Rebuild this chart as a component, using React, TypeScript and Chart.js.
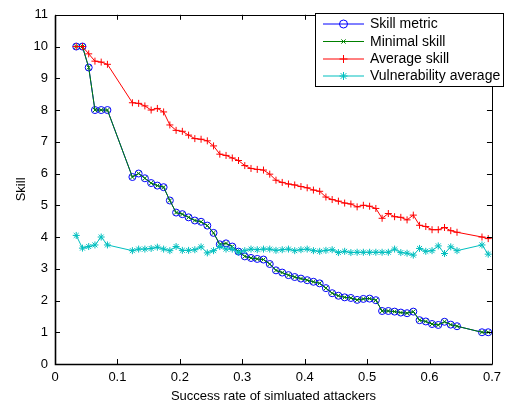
import React, { useEffect, useRef } from 'react';
import { Chart, registerables } from 'chart.js';
import { drawPoint } from 'chart.js/helpers';

Chart.register(...registerables);

const xValues = [
  0.034, 0.044, 0.054, 0.064, 0.074, 0.084,
  0.124, 0.134, 0.144, 0.154, 0.164, 0.174, 0.184, 0.194, 0.204, 0.214,
  0.224, 0.234, 0.244, 0.254, 0.264, 0.274, 0.284, 0.294, 0.304, 0.314,
  0.324, 0.334, 0.344, 0.354, 0.364, 0.374, 0.384, 0.394, 0.404, 0.414,
  0.424, 0.434, 0.444, 0.454, 0.464, 0.474, 0.484, 0.494, 0.504, 0.514,
  0.524, 0.534, 0.544, 0.554, 0.564, 0.574, 0.584, 0.594, 0.604, 0.614,
  0.624, 0.634, 0.644, 0.684, 0.694,
];

const skillMetric = [
  10.0, 10.0, 9.34, 8.0, 8.0, 8.0,
  5.89, 6.0, 5.85, 5.70, 5.62, 5.57, 5.15, 4.77, 4.72, 4.62,
  4.52, 4.48, 4.36, 4.13, 3.77, 3.80, 3.70, 3.54, 3.39, 3.34,
  3.31, 3.29, 3.15, 2.95, 2.88, 2.80, 2.74, 2.69, 2.64, 2.59,
  2.54, 2.39, 2.23, 2.15, 2.10, 2.08, 2.02, 2.05, 2.06, 2.01,
  1.67, 1.67, 1.65, 1.62, 1.60, 1.65, 1.38, 1.34, 1.26, 1.23,
  1.33, 1.24, 1.19, 1.00, 1.00,
];

const minimalSkill = [
  10.0, 10.0, 9.34, 8.0, 8.0, 8.0,
  5.89, 6.0, 5.85, 5.70, 5.62, 5.57, 5.15, 4.77, 4.72, 4.62,
  4.52, 4.48, 4.36, 4.13, 3.77, 3.80, 3.70, 3.54, 3.39, 3.34,
  3.31, 3.29, 3.15, 2.95, 2.88, 2.80, 2.74, 2.69, 2.64, 2.59,
  2.54, 2.39, 2.23, 2.15, 2.10, 2.08, 2.02, 2.05, 2.06, 2.01,
  1.67, 1.67, 1.65, 1.62, 1.60, 1.65, 1.38, 1.34, 1.26, 1.23,
  1.33, 1.24, 1.19, 1.00, 1.00,
];

const averageSkill = [
  10.0, 10.0, 9.77, 9.54, 9.51, 9.44,
  8.23, 8.21, 8.13, 8.00, 8.05, 7.94, 7.53, 7.36, 7.33, 7.21,
  7.10, 7.08, 7.03, 6.87, 6.61, 6.57, 6.49, 6.41, 6.25, 6.16,
  6.13, 6.11, 5.98, 5.79, 5.72, 5.67, 5.64, 5.59, 5.55, 5.48,
  5.44, 5.26, 5.18, 5.13, 5.07, 5.04, 4.95, 5.00, 4.97, 4.90,
  4.59, 4.74, 4.64, 4.62, 4.54, 4.69, 4.37, 4.33, 4.23, 4.23,
  4.30, 4.20, 4.15, 4.00, 3.95,
];

const vulnerabilityAverage = [
  4.05, 3.65, 3.70, 3.75, 4.00, 3.75,
  3.57, 3.62, 3.62, 3.64, 3.68, 3.62, 3.57, 3.70, 3.58, 3.58,
  3.60, 3.69, 3.50, 3.57, 3.70, 3.62, 3.62, 3.52, 3.57, 3.62,
  3.60, 3.62, 3.62, 3.58, 3.60, 3.62, 3.57, 3.60, 3.62, 3.57,
  3.55, 3.58, 3.60, 3.51, 3.55, 3.51, 3.52, 3.52, 3.52, 3.52,
  3.52, 3.52, 3.62, 3.51, 3.49, 3.43, 3.64, 3.55, 3.57, 3.72,
  3.48, 3.69, 3.57, 3.75, 3.46,
];

const xTicks = [0, 0.1, 0.2, 0.3, 0.4, 0.5, 0.6, 0.7];
const yTicks = [0, 1, 2, 3, 4, 5, 6, 7, 8, 9, 10, 11];
const seriesLabels = ['Skill metric', 'Minimal skill', 'Average skill', 'Vulnerability average'];
const xTitle = 'Success rate of simluated attackers';
const yTitle = 'Skill';

const FONT = "'Liberation Sans', Arial, Helvetica, sans-serif";

const styles = [
  { color: '#0000ff', pointStyle: 'circle', radius: 3.5, legendRadius: 4, order: 4 },
  { color: '#008000', pointStyle: 'crossRot', radius: 3, legendRadius: 3, order: 3 },
  { color: '#ff0000', pointStyle: 'cross', radius: 3.5, legendRadius: 4, order: 2 },
  { color: '#00bfbf', pointStyle: 'star', radius: 3.5, legendRadius: 4, order: 1 },
];

const frameAndLegend = {
  id: 'frameAndLegend',
  afterDraw(chart: any) {
    const { ctx, chartArea } = chart;
    const { left, right, top, bottom } = chartArea;
    const xs = chart.scales.x;
    const ys = chart.scales.y;
    ctx.save();
    ctx.strokeStyle = '#000';
    ctx.lineWidth = 1;
    const tl = 5;
    ctx.beginPath();
    xTicks.forEach((v) => {
      const px = Math.round(xs.getPixelForValue(v)) + 0.5;
      ctx.moveTo(px, bottom);
      ctx.lineTo(px, bottom - tl);
      ctx.moveTo(px, top);
      ctx.lineTo(px, top + tl);
    });
    yTicks.forEach((v) => {
      const py = Math.round(ys.getPixelForValue(v)) + 0.5;
      ctx.moveTo(left, py);
      ctx.lineTo(left + tl, py);
      ctx.moveTo(right, py);
      ctx.lineTo(right - tl, py);
    });
    ctx.stroke();
    const L = Math.round(left) + 0.5, R = Math.round(right) + 0.5;
    const T = Math.round(top) + 0.5, B = Math.round(bottom) + 0.5;
    ctx.beginPath();
    ctx.moveTo(L, T);
    ctx.lineTo(R, T);
    ctx.lineTo(R, B);
    ctx.stroke();
    ctx.lineWidth = 1.6;
    ctx.beginPath();
    ctx.moveTo(L, T);
    ctx.lineTo(L, B);
    ctx.lineTo(R, B);
    ctx.stroke();

    // legend
    const bx = 315.5, by = 13.5, bw = 188, bh = 73;
    ctx.lineWidth = 1;
    ctx.fillStyle = '#fff';
    ctx.fillRect(bx, by, bw, bh);
    ctx.strokeStyle = '#000';
    ctx.strokeRect(bx, by, bw, bh);
    const rows = [24, 41.5, 59, 76];
    ctx.font = `14px ${FONT}`;
    ctx.textBaseline = 'middle';
    ctx.textAlign = 'left';
    seriesLabels.forEach((label, i) => {
      const s = styles[i];
      const y = rows[i];
      ctx.strokeStyle = s.color;
      ctx.lineWidth = 1;
      ctx.beginPath();
      ctx.moveTo(323, y);
      ctx.lineTo(364, y);
      ctx.stroke();
      ctx.fillStyle = 'rgba(0,0,0,0)';
      drawPoint(ctx, { pointStyle: s.pointStyle, radius: s.legendRadius, borderWidth: 1, rotation: 0 } as any, 343.5, y);
      ctx.fillStyle = '#000';
      ctx.fillText(label, 370, y + 0.5);
    });
    ctx.restore();
  },
};

export default function App() {
  const canvasRef = useRef<HTMLCanvasElement | null>(null);

  useEffect(() => {
    const canvas = canvasRef.current;
    if (!canvas) return;
    const allSeries = [skillMetric, minimalSkill, averageSkill, vulnerabilityAverage];
    const datasets = allSeries.map((vals, i) => ({
      label: seriesLabels[i],
      data: xValues.map((x, j) => ({ x, y: vals[j] })),
      borderColor: styles[i].color,
      backgroundColor: 'rgba(0,0,0,0)',
      pointBorderColor: styles[i].color,
      pointBackgroundColor: 'rgba(0,0,0,0)',
      pointStyle: styles[i].pointStyle,
      pointRadius: styles[i].radius,
      pointBorderWidth: 1,
      borderWidth: 1,
      tension: 0,
      showLine: true,
      fill: false,
      order: styles[i].order,
    }));

    const chart = new Chart(canvas, {
      type: 'scatter',
      data: { datasets } as any,
      options: {
        responsive: false,
        animation: false,
        devicePixelRatio: 1,
        layout: { padding: { top: 7, right: 10, left: 0, bottom: 0 } },
        plugins: {
          legend: { display: false },
          tooltip: { enabled: false },
        },
        scales: {
          x: {
            type: 'linear',
            min: 0,
            max: 0.7,
            afterBuildTicks: (scale: any) => {
              scale.ticks = xTicks.map((v) => ({ value: v }));
            },
            afterFit: (scale: any) => {
              scale.height = 41;
            },
            grid: { display: false, drawTicks: false },
            border: { display: false },
            ticks: {
              padding: 6,
              color: '#000',
              font: { family: FONT, size: 13 },
              maxRotation: 0,
              autoSkip: false,
              callback: (v: any) => String(Number(Number(v).toFixed(1))),
            },
            title: {
              display: true,
              text: xTitle,
              color: '#000',
              font: { family: FONT, size: 13 },
              padding: { top: 0, bottom: 1 },
            },
          },
          y: {
            type: 'linear',
            min: 0,
            max: 11,
            afterBuildTicks: (scale: any) => {
              scale.ticks = yTicks.map((v) => ({ value: v }));
            },
            afterFit: (scale: any) => {
              scale.width = 55;
            },
            grid: { display: false, drawTicks: false },
            border: { display: false },
            ticks: {
              padding: 7,
              color: '#000',
              font: { family: FONT, size: 13 },
              autoSkip: false,
              callback: (v: any) => String(v),
            },
            title: {
              display: true,
              text: yTitle,
              color: '#000',
              font: { family: FONT, size: 13 },
              padding: { top: 14, bottom: 0 },
            },
          },
        },
      },
      plugins: [frameAndLegend],
    } as any);

    return () => chart.destroy();
  }, []);

  return (
    <div style={{ position: 'absolute', left: 0, top: 0, width: 507, height: 405, background: '#fff' }}>
      <canvas ref={canvasRef} width={507} height={405} style={{ display: 'block', width: 507, height: 405 }} />
    </div>
  );
}
